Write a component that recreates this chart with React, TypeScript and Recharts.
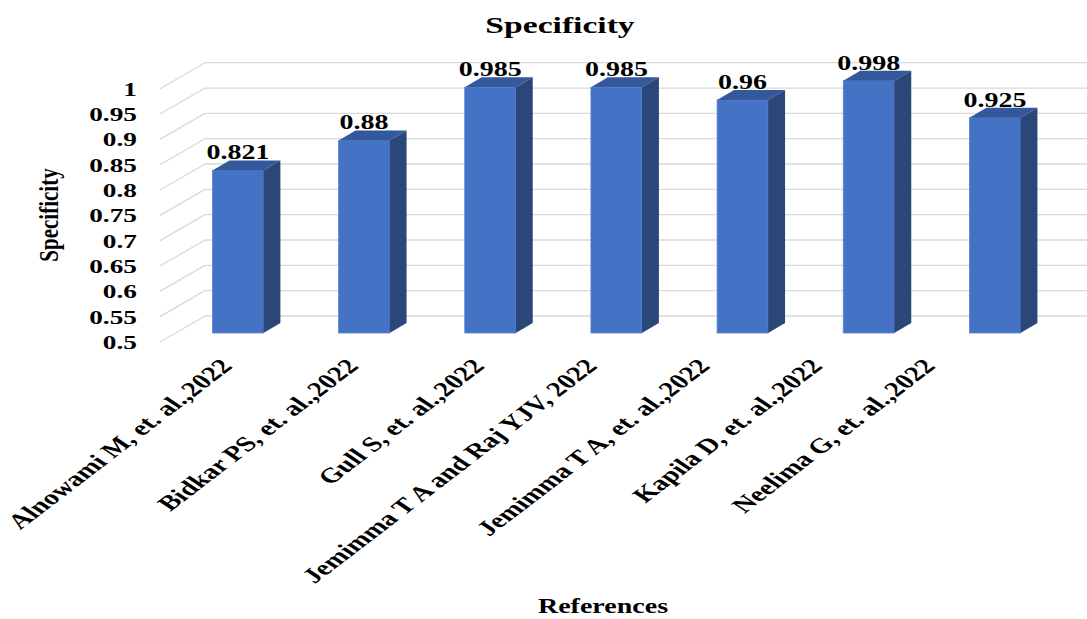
import React from 'react';
import { BarChart, Bar, XAxis, YAxis, CartesianGrid, LabelList } from 'recharts';

const categories = [
    'Alnowami M, et. al.,2022',
    'Bidkar PS, et. al.,2022',
    'Gull S, et. al.,2022',
    'Jemimma T A and Raj YJV, 2022',
    'Jemimma T A, et. al.,2022',
    'Kapila D, et. al.,2022',
    'Neelima G, et. al.,2022'
];
const specificity = [0.821, 0.88, 0.985, 0.985, 0.96, 0.998, 0.925];
const yTicks = [0.5, 0.55, 0.6, 0.65, 0.7, 0.75, 0.8, 0.85, 0.9, 0.95, 1];

const data = categories.map((name, i) => ({ name, value: specificity[i] }));

const FONT = '"Liberation Serif", "Times New Roman", serif';
const STRETCH = 1.4;

// 3D depth of the bars and of the back wall
const BAR_DX = 17;
const BAR_DY = -10;
const WALL_LEFT = 205;
const FLOOR_LEFT = 160;

const Bar3D = (props: any) => {
    const { x, y, width, height } = props;
    if (!height || height <= 0) return null;
    return (
        <g>
            <rect x={x} y={y} width={width} height={height} fill="#4472c4" stroke="#5a86d4" strokeWidth={0.8} />
            <polygon
                points={`${x},${y} ${x + BAR_DX},${y + BAR_DY} ${x + width + BAR_DX},${y + BAR_DY} ${x + width},${y}`}
                fill="#33589b"
            />
            <polygon
                points={`${x + width},${y} ${x + width + BAR_DX},${y + BAR_DY} ${x + width + BAR_DX},${y + height + BAR_DY} ${x + width},${y + height}`}
                fill="#2b4779"
            />
        </g>
    );
};

// grid: diagonal floor line then the back wall line
const GridLine = (props: any) => {
    const { y1 } = props;
    return (
        <g key={props.key}>
            <line x1={FLOOR_LEFT} y1={y1 + 9} x2={WALL_LEFT} y2={y1 - 17} stroke="#d9d9d9" strokeWidth={1.3} />
            <line x1={WALL_LEFT} y1={y1 - 17} x2={1087} y2={y1 - 17} stroke="#d9d9d9" strokeWidth={1.3} />
        </g>
    );
};

const YTick = (props: any) => {
    const { y, payload } = props;
    return (
        <text
            transform={`translate(137,${y + 16}) scale(${STRETCH},1)`}
            textAnchor="end"
            fontFamily={FONT}
            fontWeight="bold"
            fontSize={19.5}
            fill="#000"
        >
            {payload.value}
        </text>
    );
};

const XTick = (props: any) => {
    const { x, payload, index } = props;
    const shift = -4 - Math.max(0, index - 2) * 13.5;
    return (
        <text
            transform={`translate(${x + shift},367) scale(${STRETCH},1) rotate(-47)`}
            textAnchor="end"
            fontFamily={FONT}
            fontWeight="bold"
            fontSize={21}
            fill="#000"
        >
            {payload.value}
        </text>
    );
};

const ValueLabel = (props: any) => {
    const { x, y, width, value } = props;
    return (
        <text
            transform={`translate(${x + width / 2},${y - 11}) scale(${STRETCH},1)`}
            textAnchor="middle"
            fontFamily={FONT}
            fontWeight="bold"
            fontSize={20}
            fill="#000"
        >
            {value}
        </text>
    );
};

export default function App() {
    return (
        <div style={{ position: 'absolute', left: 0, top: 0, width: 1087, height: 619, background: '#fff', fontFamily: FONT }}>
            <BarChart
                width={1087}
                height={619}
                data={data}
                margin={{ top: 79.7, right: 29.4, left: 114.4, bottom: 256 }}
                barSize={51}
            >
                <CartesianGrid vertical={false} horizontal={GridLine as any} />
                <XAxis dataKey="name" axisLine={false} tickLine={false} interval={0} height={30} tick={<XTick />} />
                <YAxis
                    domain={[0.5, 1]}
                    ticks={yTicks}
                    width={60}
                    axisLine={false}
                    tickLine={false}
                    tick={<YTick />}
                />
                <Bar dataKey="value" shape={<Bar3D />} isAnimationActive={false}>
                    <LabelList dataKey="value" content={<ValueLabel />} />
                </Bar>
            </BarChart>

            <div style={{ position: 'absolute', left: 560, top: 11.6, fontSize: 24, fontWeight: 'bold', whiteSpace: 'nowrap', transform: `translateX(-50%) scaleX(${STRETCH})`, lineHeight: 'normal' }}>
                Specificity
            </div>
            <div style={{ position: 'absolute', left: 603, top: 595, fontSize: 20, fontWeight: 'bold', whiteSpace: 'nowrap', transform: `translateX(-50%) scaleX(${STRETCH})`, lineHeight: 'normal' }}>
                References
            </div>
            <div style={{ position: 'absolute', left: 50, top: 215, fontSize: 21, fontWeight: 'bold', whiteSpace: 'nowrap', transform: 'translate(-50%,-50%) scaleX(1.3) rotate(-90deg)', lineHeight: 'normal' }}>
                Specificity
            </div>
        </div>
    );
}
